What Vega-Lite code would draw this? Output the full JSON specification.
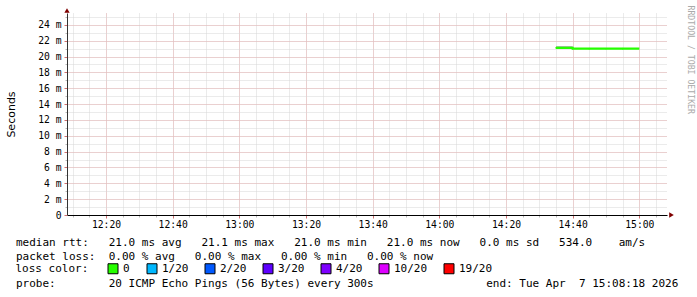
{
  "$schema": "https://vega.github.io/schema/vega-lite/v6.json",
  "width": 600,
  "height": 202,
  "autosize": "none",
  "padding": {"left": 67, "top": 13, "right": 30, "bottom": 82},
  "background": "#ffffff",
  "config": {
    "view": {"stroke": null},
    "font": "DejaVu Sans Mono"
  },
  "resolve": {"axis": {"x": "independent", "y": "independent"}},
  "layer": [
    {
      "data": {"values": [
        {"t": "2026-04-07T14:35:00", "lo": 21.1, "hi": 21.35},
        {"t": "2026-04-07T14:40:00", "lo": 21.0, "hi": 21.0}
      ]},
      "mark": {"type": "area", "interpolate": "step-after", "color": "#b4b4b4"},
      "encoding": {
        "x": {"field": "t", "type": "temporal",
          "scale": {"domain": ["2026-04-07T12:08:18", "2026-04-07T15:08:18"], "nice": false},
          "axis": {"orient": "bottom", "grid": true, "gridColor": "#d6d6d6", "gridDash": [1, 1],
            "labels": false, "ticks": true, "tickSize": 2, "tickColor": "#b8b8b8", "domain": false, "title": null,
            "values": [
              {"year": 2026, "month": 4, "date": 7, "hours": 12, "minutes": 10}, {"year": 2026, "month": 4, "date": 7, "hours": 12, "minutes": 15},
              {"year": 2026, "month": 4, "date": 7, "hours": 12, "minutes": 20}, {"year": 2026, "month": 4, "date": 7, "hours": 12, "minutes": 25},
              {"year": 2026, "month": 4, "date": 7, "hours": 12, "minutes": 30}, {"year": 2026, "month": 4, "date": 7, "hours": 12, "minutes": 35},
              {"year": 2026, "month": 4, "date": 7, "hours": 12, "minutes": 40}, {"year": 2026, "month": 4, "date": 7, "hours": 12, "minutes": 45},
              {"year": 2026, "month": 4, "date": 7, "hours": 12, "minutes": 50}, {"year": 2026, "month": 4, "date": 7, "hours": 12, "minutes": 55},
              {"year": 2026, "month": 4, "date": 7, "hours": 13, "minutes": 0}, {"year": 2026, "month": 4, "date": 7, "hours": 13, "minutes": 5},
              {"year": 2026, "month": 4, "date": 7, "hours": 13, "minutes": 10}, {"year": 2026, "month": 4, "date": 7, "hours": 13, "minutes": 15},
              {"year": 2026, "month": 4, "date": 7, "hours": 13, "minutes": 20}, {"year": 2026, "month": 4, "date": 7, "hours": 13, "minutes": 25},
              {"year": 2026, "month": 4, "date": 7, "hours": 13, "minutes": 30}, {"year": 2026, "month": 4, "date": 7, "hours": 13, "minutes": 35},
              {"year": 2026, "month": 4, "date": 7, "hours": 13, "minutes": 40}, {"year": 2026, "month": 4, "date": 7, "hours": 13, "minutes": 45},
              {"year": 2026, "month": 4, "date": 7, "hours": 13, "minutes": 50}, {"year": 2026, "month": 4, "date": 7, "hours": 13, "minutes": 55},
              {"year": 2026, "month": 4, "date": 7, "hours": 14, "minutes": 0}, {"year": 2026, "month": 4, "date": 7, "hours": 14, "minutes": 5},
              {"year": 2026, "month": 4, "date": 7, "hours": 14, "minutes": 10}, {"year": 2026, "month": 4, "date": 7, "hours": 14, "minutes": 15},
              {"year": 2026, "month": 4, "date": 7, "hours": 14, "minutes": 20}, {"year": 2026, "month": 4, "date": 7, "hours": 14, "minutes": 25},
              {"year": 2026, "month": 4, "date": 7, "hours": 14, "minutes": 30}, {"year": 2026, "month": 4, "date": 7, "hours": 14, "minutes": 35},
              {"year": 2026, "month": 4, "date": 7, "hours": 14, "minutes": 40}, {"year": 2026, "month": 4, "date": 7, "hours": 14, "minutes": 45},
              {"year": 2026, "month": 4, "date": 7, "hours": 14, "minutes": 50}, {"year": 2026, "month": 4, "date": 7, "hours": 14, "minutes": 55},
              {"year": 2026, "month": 4, "date": 7, "hours": 15, "minutes": 0}, {"year": 2026, "month": 4, "date": 7, "hours": 15, "minutes": 5}
            ]}},
        "y": {"field": "lo", "type": "quantitative",
          "scale": {"domain": [0, 25.5], "nice": false, "zero": false},
          "axis": {"orient": "left", "grid": true, "gridColor": "#d6d6d6", "gridDash": [1, 1],
            "values": [0,1,2,3,4,5,6,7,8,9,10,11,12,13,14,15,16,17,18,19,20,21,22,23,24,25],
            "labels": false, "ticks": true, "tickSize": 2, "tickColor": "#b8b8b8", "domain": false, "title": null}},
        "y2": {"field": "hi"}
      }
    },
    {
      "data": {"values": [
        {"t": "2026-04-07T14:35:00", "rtt": 21.1, "loss": "0"},
        {"t": "2026-04-07T14:40:00", "rtt": 21.0, "loss": "0"},
        {"t": "2026-04-07T14:45:00", "rtt": 21.0, "loss": "0"},
        {"t": "2026-04-07T14:50:00", "rtt": 21.0, "loss": "0"},
        {"t": "2026-04-07T14:55:00", "rtt": 21.0, "loss": "0"},
        {"t": "2026-04-07T15:00:00", "rtt": 21.0, "loss": "0"}
      ]},
      "mark": {"type": "line", "interpolate": "step-after", "strokeWidth": 2.2, "color": "#26ff00"},
      "encoding": {
        "x": {"field": "t", "type": "temporal",
          "scale": {"domain": ["2026-04-07T12:08:18", "2026-04-07T15:08:18"], "nice": false},
          "axis": {"orient": "bottom", "grid": true, "gridColor": "#e8b4b4", "gridDash": [1, 1],
            "values": [
              {"year": 2026, "month": 4, "date": 7, "hours": 12, "minutes": 20}, {"year": 2026, "month": 4, "date": 7, "hours": 12, "minutes": 40},
              {"year": 2026, "month": 4, "date": 7, "hours": 13, "minutes": 0}, {"year": 2026, "month": 4, "date": 7, "hours": 13, "minutes": 20},
              {"year": 2026, "month": 4, "date": 7, "hours": 13, "minutes": 40}, {"year": 2026, "month": 4, "date": 7, "hours": 14, "minutes": 0},
              {"year": 2026, "month": 4, "date": 7, "hours": 14, "minutes": 20}, {"year": 2026, "month": 4, "date": 7, "hours": 14, "minutes": 40},
              {"year": 2026, "month": 4, "date": 7, "hours": 15, "minutes": 0}
            ],
            "format": "%H:%M",
            "labelFont": "DejaVu Sans Mono", "labelFontSize": 9.7, "labelColor": "#000000", "labelPadding": 1.5, "labelFlush": false,
            "ticks": true, "tickSize": 3, "tickColor": "#d07070",
            "domain": true, "domainColor": "#000000", "domainWidth": 1,
            "title": [
              "median rtt:\u00a0\u00a0\u00a021.0 ms avg\u00a0\u00a0\u00a021.1 ms max\u00a0\u00a0\u00a021.0 ms min\u00a0\u00a0\u00a021.0 ms now\u00a0\u00a0\u00a00.0 ms sd\u00a0\u00a0\u00a0534.0\u00a0\u00a0\u00a0\u00a0am/s",
              "packet loss:\u00a0\u00a00.00 % avg\u00a0\u00a0\u00a00.00 % max\u00a0\u00a0\u00a00.00 % min\u00a0\u00a0\u00a00.00 % now",
              "\u200b",
              "probe:\u00a0\u00a0\u00a0\u00a0\u00a0\u00a0\u00a0\u00a020 ICMP Echo Pings (56 Bytes) every 300s\u00a0\u00a0\u00a0\u00a0\u00a0\u00a0\u00a0\u00a0\u00a0\u00a0\u00a0\u00a0\u00a0\u00a0\u00a0\u00a0\u00a0end: Tue Apr\u00a0\u00a07 15:08:18 2026"
            ],
            "titleX": -51.5, "titleY": 30.4, "titleAlign": "left", "titleAngle": 0, "titleBaseline": "alphabetic",
            "titleFont": "DejaVu Sans Mono", "titleFontSize": 11, "titleFontWeight": "normal", "titleColor": "#000000",
            "titleLineHeight": 13.8}},
        "y": {"field": "rtt", "type": "quantitative",
          "scale": {"domain": [0, 25.5], "nice": false, "zero": false},
          "axis": {"orient": "left", "grid": true, "gridColor": "#e8b4b4", "gridDash": [1, 1],
            "values": [0,2,4,6,8,10,12,14,16,18,20,22,24],
            "labelExpr": "datum.value == 0 ? '0' : datum.value + ' m'",
            "labelFont": "DejaVu Sans Mono", "labelFontSize": 9.7, "labelColor": "#000000", "labelPadding": 3,
            "ticks": true, "tickSize": 3, "tickColor": "#d07070",
            "domain": true, "domainColor": "#333333", "domainWidth": 1,
            "title": "Seconds", "titleX": -56, "titleY": 101, "titleAngle": 270, "titleAlign": "center", "titleBaseline": "middle",
            "titleFont": "DejaVu Sans", "titleFontSize": 11, "titleFontWeight": "normal", "titleColor": "#000000"}}
      }
    },
    {
      "data": {"values": [
        {"t": "2026-04-07T14:35:00", "rtt": 21.1, "loss": "0"},
        {"t": "2026-04-07T14:40:00", "rtt": 21.0, "loss": "0"},
        {"t": "2026-04-07T14:45:00", "rtt": 21.0, "loss": "0"},
        {"t": "2026-04-07T14:50:00", "rtt": 21.0, "loss": "0"},
        {"t": "2026-04-07T14:55:00", "rtt": 21.0, "loss": "0"}
      ]},
      "mark": {"type": "square", "opacity": 1, "size": 2},
      "encoding": {
        "x": {"field": "t", "type": "temporal", "scale": {"domain": ["2026-04-07T12:08:18", "2026-04-07T15:08:18"], "nice": false}, "axis": null},
        "y": {"field": "rtt", "type": "quantitative", "scale": {"domain": [0, 25.5], "nice": false, "zero": false}, "axis": null},
        "color": {"field": "loss", "type": "nominal",
          "scale": {"domain": ["0", "1/20", "2/20", "3/20", "4/20", "10/20", "19/20"],
                    "range": ["#26ff00", "#00b8ff", "#0059ff", "#5e00ff", "#7e00ff", "#dd00ff", "#ff0000"]},
          "legend": {"title": "loss color:", "orient": "none", "legendX": -51.5, "legendY": 250,
            "direction": "horizontal", "titleOrient": "left",
            "titleFont": "DejaVu Sans Mono", "titleFontSize": 11, "titleFontWeight": "normal", "titleColor": "#000000", "titlePadding": 19,
            "labelFont": "DejaVu Sans Mono", "labelFontSize": 11, "labelColor": "#000000", "labelOffset": 4.5,
            "columnPadding": 14, "padding": 0, "symbolType": "square", "symbolSize": 100, "symbolStrokeWidth": 1,
            "symbolStrokeColor": "#000000", "symbolOpacity": 1}}
      }
    },
    {
      "data": {"values": [{"t": "2026-04-07T15:08:18", "v": 0}]},
      "mark": {"type": "point", "shape": "triangle-right", "filled": true, "color": "#7f0000", "opacity": 1, "size": 28, "xOffset": 4.5},
      "encoding": {
        "x": {"field": "t", "type": "temporal", "scale": {"domain": ["2026-04-07T12:08:18", "2026-04-07T15:08:18"], "nice": false}, "axis": null},
        "y": {"field": "v", "type": "quantitative", "scale": {"domain": [0, 25.5], "nice": false, "zero": false}, "axis": null}
      }
    },
    {
      "data": {"values": [{"t": "2026-04-07T12:08:18", "v": 25.5}]},
      "mark": {"type": "point", "shape": "triangle-up", "filled": true, "color": "#7f0000", "opacity": 1, "size": 28, "yOffset": -2.5},
      "encoding": {
        "x": {"field": "t", "type": "temporal", "scale": {"domain": ["2026-04-07T12:08:18", "2026-04-07T15:08:18"], "nice": false}, "axis": null},
        "y": {"field": "v", "type": "quantitative", "scale": {"domain": [0, 25.5], "nice": false, "zero": false},
          "axis": {"orient": "right", "labels": false, "ticks": false, "domain": false, "grid": false,
            "title": "RRDTOOL / TOBI OETIKER", "titleX": 22, "titleY": -8, "titleAngle": 90, "titleAlign": "left", "titleBaseline": "middle",
            "titleFont": "DejaVu Sans Mono", "titleFontSize": 8.2, "titleFontWeight": "normal", "titleColor": "#aaaaaa"}}
      }
    }
  ]
}
